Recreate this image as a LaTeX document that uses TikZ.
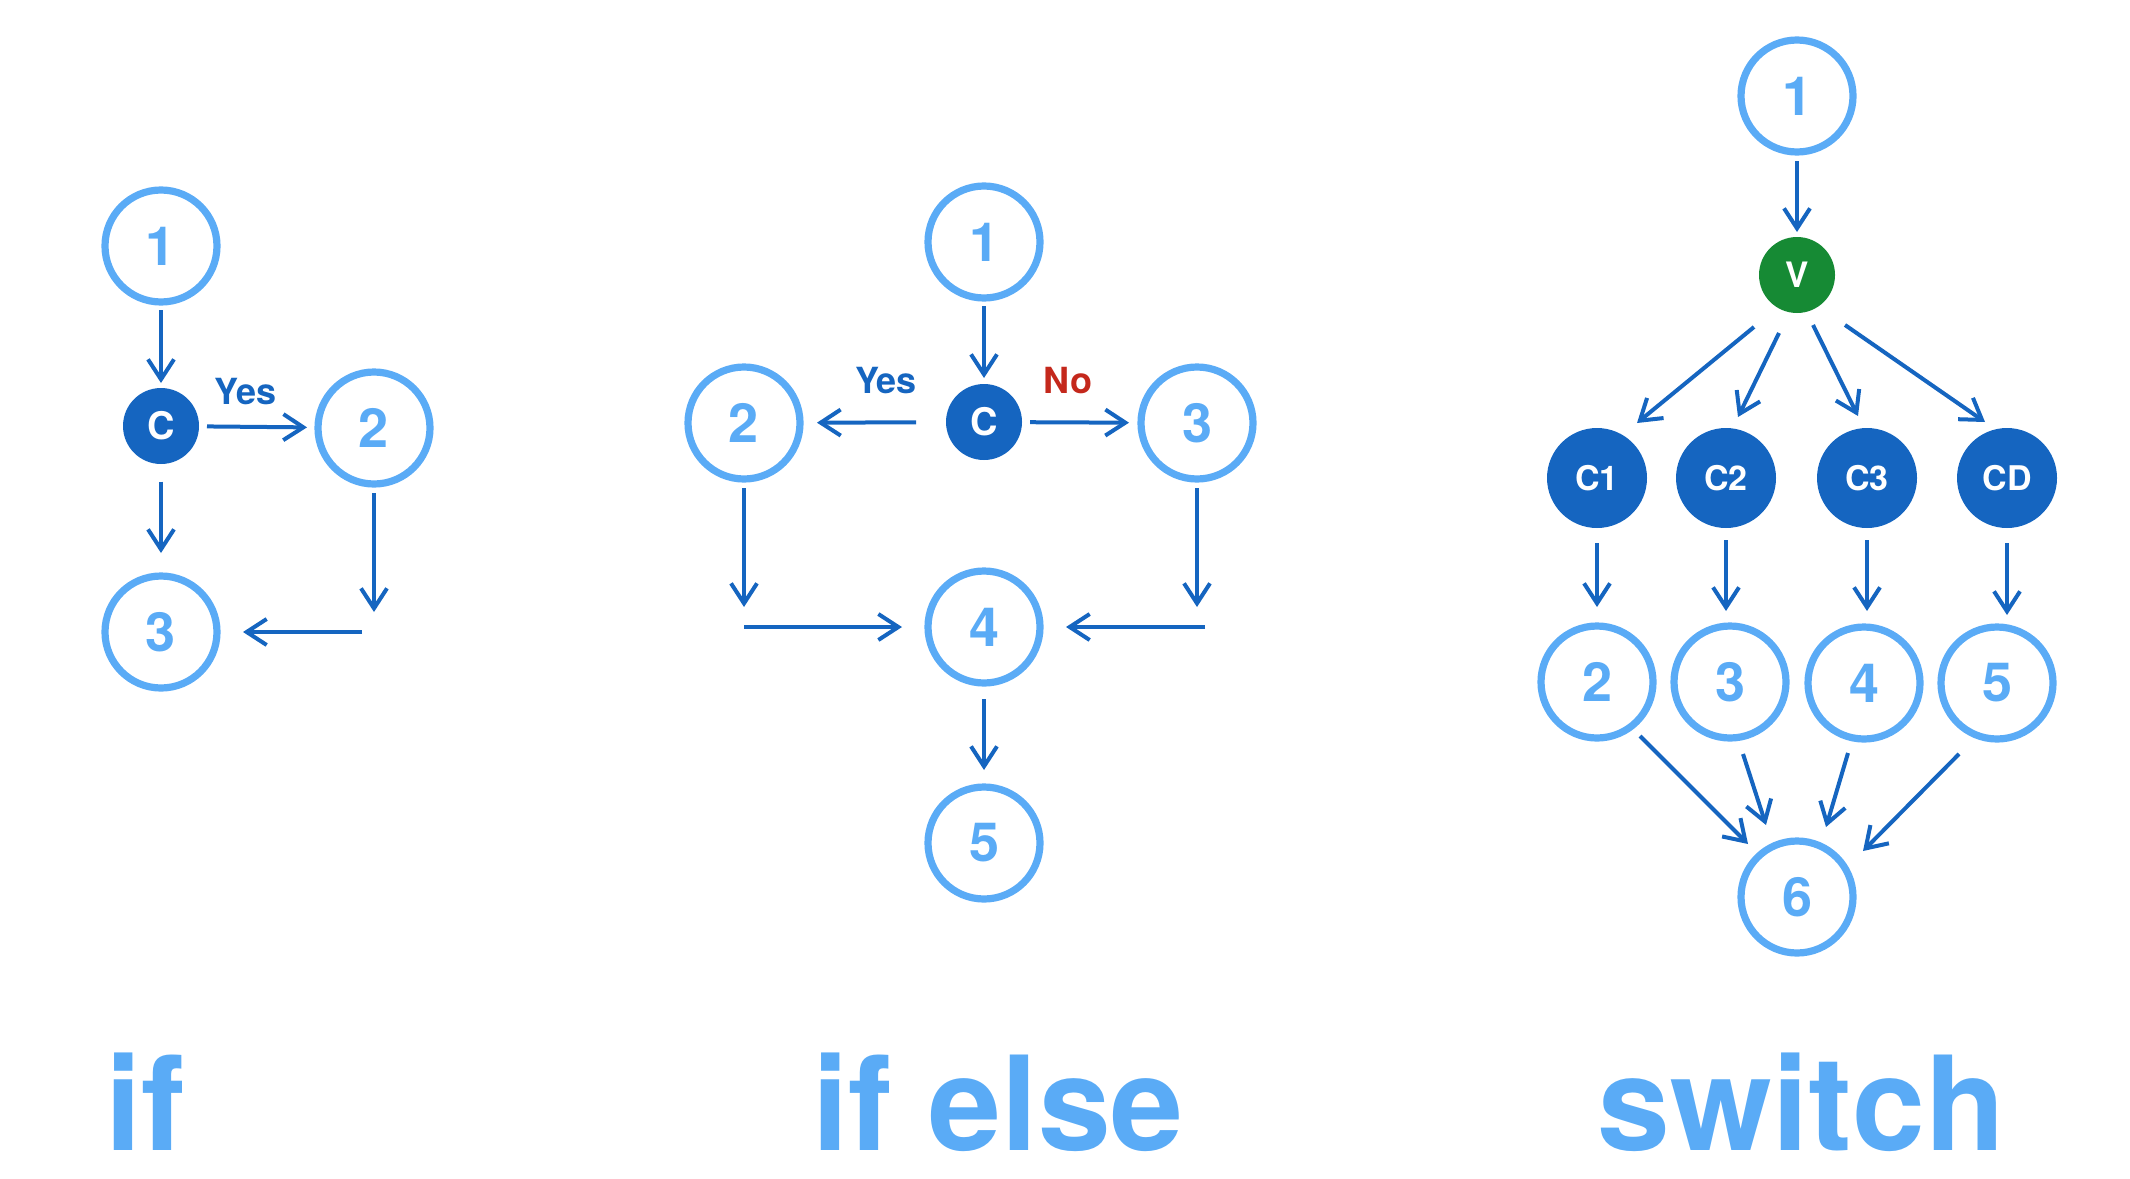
\documentclass[tikz,border=0pt]{standalone}
\usepackage{fontspec}
\setmainfont{TeX Gyre Heros}
\usetikzlibrary{arrows.meta,calc}
\definecolor{lblue}{HTML}{5AABF6}
\definecolor{dblue}{HTML}{1565C0}
\definecolor{vgreen}{HTML}{168A34}
\definecolor{nored}{HTML}{C4281C}
\begin{document}
\begin{tikzpicture}[x=0.5pt,y=-0.5pt,
  ring/.style={circle,draw=lblue,line width=3.6pt,minimum size=56pt,inner sep=0pt,outer sep=0pt,text=lblue,font=\fontsize{27}{27}\selectfont\bfseries},
  cnode/.style={circle,fill=dblue,minimum size=38pt,inner sep=0pt,outer sep=0pt,text=white,font=\fontsize{19}{19}\selectfont\bfseries},
  bignode/.style={cnode,minimum size=50pt,font=\fontsize{17}{17}\selectfont\bfseries},
  vnode/.style={cnode,fill=vgreen,font=\fontsize{17.5}{17.5}\selectfont\bfseries},
  arr/.style={draw=dblue,line width=2pt,-{Straight Barb[length=10pt,width=13pt]}},
  lbl/.style={font=\fontsize{18}{18}\selectfont\bfseries,inner sep=0pt,anchor=base},
  title/.style={text=lblue,font=\fontsize{65.5}{66}\selectfont\bfseries,inner sep=0pt,anchor=base west}]
\useasboundingbox (0,0) rectangle (2130,1178);

% ---------- if ----------
\node[ring] (a1) at (161,246) {1};
\node[cnode] (ac) at (161,426) {C};
\node[ring] (a2) at (374,428) {2};
\node[ring] (a3) at (161,632) {3};
\node[lbl,text=dblue] (ayes) at (245.5,404) {Yes};
\coordinate (a2d) at (374,612);
\coordinate (a3r) at (362,632);
\draw[arr,shorten <=4.2pt,shorten >=2.5pt] (a1) -- (ac);
\draw[arr,shorten <=4pt,shorten >=5.5pt] (ac) -- (a2);
\draw[arr,shorten <=8.8pt,shorten >=11.5pt] (ac) -- (a3);
\draw[arr,shorten <=4.5pt] (a2) -- (a2d);
\draw[arr,shorten >=13pt] (a3r) -- (a3);
\node[title] (tif) at (105,1150) {if};

% ---------- if else ----------
\node[ring] (b1) at (984,242) {1};
\node[cnode] (bc) at (984,422) {C};
\node[ring] (b2) at (744,423) {2};
\node[ring] (b3) at (1197,423) {3};
\node[ring] (b4) at (984,627) {4};
\node[ring] (b5) at (984,843) {5};
\node[lbl,text=dblue] (byes) at (886,393) {Yes};
\node[lbl,text=nored] (bno) at (1068,393) {No};
\coordinate (b2d) at (744,607);
\coordinate (b2r) at (744,627);
\coordinate (b3d) at (1197,607);
\coordinate (b3l) at (1205,627);
\draw[arr,shorten <=4pt,shorten >=3pt] (b1) -- (bc);
\draw[arr,shorten <=15pt,shorten >=8.5pt] (bc) -- (b2);
\draw[arr,shorten <=4pt,shorten >=6pt] (bc) -- (b3);
\draw[arr,shorten <=4.5pt] (b2) -- (b2d);
\draw[arr,shorten >=13pt] (b2r) -- (b4);
\draw[arr,shorten <=4.5pt] (b3) -- (b3d);
\draw[arr,shorten >=13pt] (b3l) -- (b4);
\draw[arr,shorten <=8pt,shorten >=8.5pt] (b4) -- (b5);
\node[title] (tifelse) at (812,1150) {if else};

% ---------- switch ----------
\node[ring] (s1) at (1797,96) {1};
\node[vnode] (sv) at (1797,275) {V};
\node[bignode] (sc1) at (1597,478) {C1};
\node[bignode] (sc2) at (1726,478) {C2};
\node[bignode] (sc3) at (1867,478) {C3};
\node[bignode] (scd) at (2007,478) {CD};
\node[ring] (s2) at (1597,682) {2};
\node[ring] (s3) at (1730,682) {3};
\node[ring] (s4) at (1864,683) {4};
\node[ring] (s5) at (1997,683) {5};
\node[ring] (s6) at (1797,897) {6};
\draw[arr,shorten <=4.5pt,shorten >=2.5pt] (s1) -- (sv);
% fan-out from V
\coordinate (v1s) at ($(sv)+(-43,52)$);  \coordinate (v1e) at ($(sc1)+(40,-55)$);
\coordinate (v2s) at ($(sv)+(-18,58)$);  \coordinate (v2e) at ($(sc2)+(12,-61)$);
\coordinate (v3s) at ($(sv)+(16,50)$);   \coordinate (v3e) at ($(sc3)+(-9,-62)$);
\coordinate (v4s) at ($(sv)+(48,50)$);   \coordinate (v4e) at ($(scd)+(-22,-56)$);
\draw[arr] (v1s) -- (v1e);
\draw[arr] (v2s) -- (v2e);
\draw[arr] (v3s) -- (v3e);
\draw[arr] (v4s) -- (v4e);
% cases down
\draw[arr,shorten <=7.5pt,shorten >=37.5pt] (sc1) -- (sc1 |- s2);
\draw[arr,shorten <=6pt,shorten >=35.5pt] (sc2) -- (sc2 |- s3);
\draw[arr,shorten <=6pt,shorten >=36pt] (sc3) -- (sc3 |- s4);
\draw[arr,shorten <=7.5pt,shorten >=34pt] (scd) -- (scd |- s5);
% fan-in to 6
\coordinate (w2s) at ($(s2)+(43,54)$);   \coordinate (w2e) at ($(s6)+(-49,-53)$);
\coordinate (w3s) at ($(s3)+(13,72)$);   \coordinate (w3e) at ($(s6)+(-31,-72)$);
\coordinate (w4s) at ($(s4)+(-16,70)$);  \coordinate (w4e) at ($(s6)+(29,-70)$);
\coordinate (w5s) at ($(s5)+(-38,71)$);  \coordinate (w5e) at ($(s6)+(66,-46)$);
\draw[arr] (w2s) -- (w2e);
\draw[arr] (w3s) -- (w3e);
\draw[arr] (w4s) -- (w4e);
\draw[arr] (w5s) -- (w5e);
\node[title] (tswitch) at (1597,1150) {switch};
\end{tikzpicture}
\end{document}
